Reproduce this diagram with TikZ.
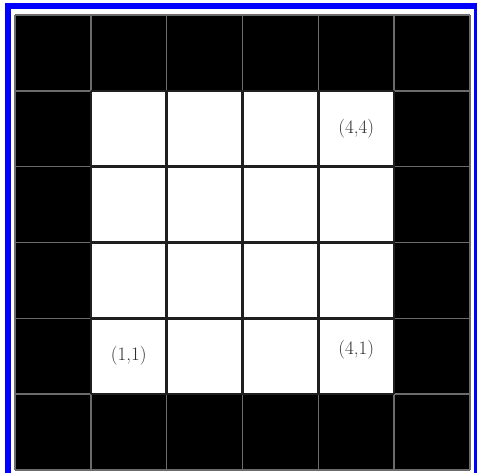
\documentclass[tikz,border=0pt]{standalone}
\usepackage{tikz}
\usetikzlibrary{positioning}
\tikzset{
    frame line/.style={draw=blue, line width=6pt},
    wall line/.style={draw=black!58, line width=1.6pt},
    cell line/.style={draw=black!88, line width=2.4pt},
    cell label/.style={font=\fontsize{19}{22}\selectfont, text=black!82, inner sep=0pt},
}

\begin{document}
\begin{tikzpicture}[x=1pt, y=-1pt]
    \useasboundingbox (0,0) rectangle (477,473);
    \clip (0,0) rectangle (477,473);
    \fill[white] (0,0) rectangle (477,473);
    \draw[frame line] (8,6) rectangle (477,476);
    % the board, in cell units
    \begin{scope}[shift={(15,15)}, x=75.83pt, y=-75.83pt]
        \fill[black] (0,0) rectangle (6,6);
        \fill[white] (1,1) rectangle (5,5);
        \foreach \k in {0,...,6} {
            \draw[wall line] (\k,0) -- (\k,6);
            \draw[wall line] (0,\k) -- (6,\k);
        }
        \foreach \k in {1,...,5} {
            \draw[cell line] (\k,1) -- (\k,5);
            \draw[cell line] (1,\k) -- (5,\k);
        }
        \node[cell label] (c44) at (4.5,1.5) {(4,4)};
        \node[cell label] (c11) at (1.5,4.5) {(1,1)};
        \node[cell label] (c41) at (4.5,4.42) {(4,1)};
    \end{scope}
\end{tikzpicture}
\end{document}
